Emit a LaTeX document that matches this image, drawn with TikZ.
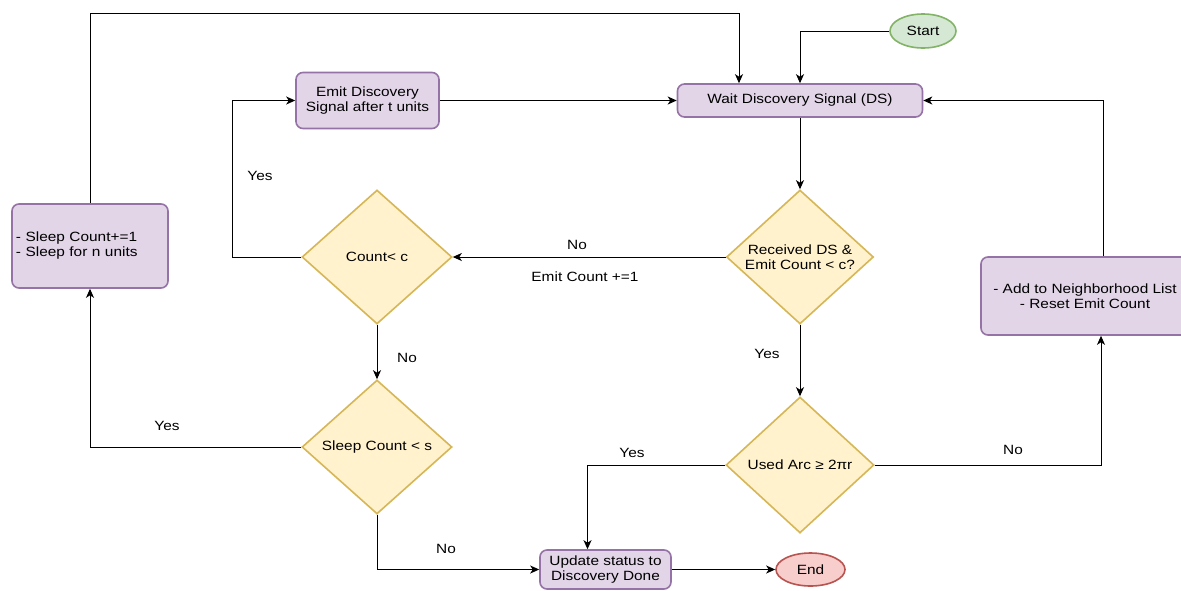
\documentclass[tikz,border=0pt]{standalone}
\usepackage{fontspec}
\setmainfont{Liberation Sans}[FakeStretch=1.15]
\usetikzlibrary{arrows.meta,shapes.geometric}
\definecolor{pfill}{HTML}{E1D5E7}
\definecolor{pline}{HTML}{9673A6}
\definecolor{yfill}{HTML}{FFF2CC}
\definecolor{yline}{HTML}{D6B656}
\definecolor{gfill}{HTML}{D5E8D4}
\definecolor{gline}{HTML}{82B366}
\definecolor{rfill}{HTML}{F8CECC}
\definecolor{rline}{HTML}{B85450}
\tikzset{
  every node/.style={font=\fontsize{13.4}{15}\selectfont},
  procbox/.style={draw=pline, fill=pfill, line width=1.6pt, rounded corners=7pt,
    align=center, inner sep=0pt},
  decision/.style={diamond, draw=yline, fill=yfill, line width=1.6pt, inner sep=0pt},
  startend/.style={ellipse, draw=#1line, fill=#1fill, line width=1.6pt, inner sep=0pt},
  arr/.style={draw, line width=1pt, -{Stealth[length=9pt,width=8pt,inset=2.5pt]}},
  lbl/.style={font=\fontsize{13.4}{15}\selectfont, inner sep=0pt},
}
\begin{document}
\begin{tikzpicture}[x=1pt,y=-1pt]
\useasboundingbox[fill=white] (0,0) rectangle (1181,590);

% terminals
\node[startend=g, minimum width=66pt, minimum height=34pt] (start) at (923,31) {Start};
\node[startend=r, minimum width=69pt, minimum height=33pt] (end) at (810.5,569.5) {End};

% process boxes
\node[procbox, minimum width=245pt, minimum height=33pt] (wait) at (800,100.5) {Wait Discovery Signal (DS)};
\node[procbox, minimum width=143pt, minimum height=56pt] (emit) at (367.5,100.5) {Emit Discovery\\Signal after t units};
\node[procbox, text width=148pt, inner xsep=4pt, align=left, minimum height=84pt] (sleepbox) at (90,246) {- Sleep Count+=1\\- Sleep for n units};
\node[procbox, minimum width=208pt, minimum height=78pt] (add) at (1085,296) {- Add to Neighborhood List\\- Reset Emit Count};
\node[procbox, minimum width=131pt, minimum height=39pt] (update) at (605.5,569.5) {Update status to\\Discovery Done};

% decisions
\node[decision, minimum width=147pt, minimum height=134pt,
  label={[align=center]center:Received DS \&\\Emit Count < c?}] (recv) at (800,257) {};
\node[decision, minimum width=150pt, minimum height=134pt,
  label={center:Count< c}] (cnt) at (377,257) {};
\node[decision, minimum width=150pt, minimum height=134pt,
  label={center:Sleep Count < s}] (sleepd) at (377,447) {};
\node[decision, minimum width=148pt, minimum height=136pt,
  label={center:Used Arc ≥ 2πr}] (arc) at (800,465) {};

% bend points
\coordinate (topbend) at (739,13);
\coordinate (yesbend) at (232,257);

% connectors
\draw[arr] (start.west) -| (wait.north);
\draw[arr] (sleepbox.north) |- (topbend) -- (wait.north -| topbend);
\draw[arr] (emit.east) -- (wait.west);
\draw[arr] (wait.south) -- (recv.north);
\draw[arr] (recv.west) -- (cnt.east);
\node[lbl] (no1) at (577,245) {No};
\node[lbl] (emitinc) at (585,277) {Emit Count +=1};
\draw[arr] (cnt.west) -- (yesbend) |- (emit.west);
\node[lbl] (yes1) at (260,176) {Yes};
\draw[arr] (cnt.south) -- (sleepd.north);
\node[lbl] (no2) at (407,358) {No};
\draw[arr] (sleepd.west) -| (sleepbox.south);
\node[lbl] (yes2) at (167,426) {Yes};
\draw[arr] (sleepd.south) |- (update.west);
\node[lbl] (no3) at (446,549) {No};
\draw[arr] (update.east) -- (end.west);
\draw[arr] (recv.south) -- (arc.north);
\node[lbl] (yes3) at (767,354) {Yes};
\draw[arr] (arc.west) -| ([xshift=-18pt]update.north);
\node[lbl] (yes4) at (632,453) {Yes};
\draw[arr] (arc.east) -| ([xshift=16pt]add.south);
\node[lbl] (no4) at (1013,450) {No};
\draw[arr] ([xshift=18pt]add.north) |- (wait.east);
\end{tikzpicture}
\end{document}
